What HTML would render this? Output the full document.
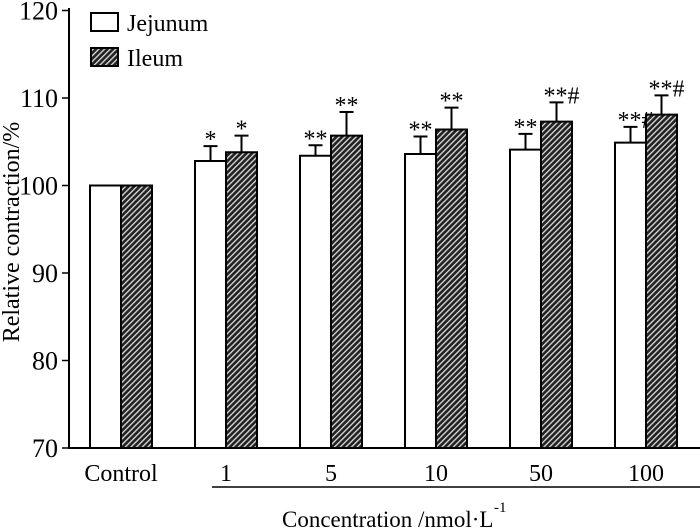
<!DOCTYPE html>
<html><head><meta charset="utf-8"><style>
body{margin:0;background:#fff}
svg{display:block;font-family:"Liberation Serif",serif}
</style></head><body>
<svg id="c" width="700" height="530">
<defs><pattern id="hatch" patternUnits="userSpaceOnUse" width="4" height="4" patternTransform="rotate(45)">
<rect width="4" height="4" fill="#222"/><rect x="0" width="1.3" height="4" fill="#ddd"/></pattern></defs>
</svg>
<script>
const categories=["Control","1","5","10","50","100"];
const jejunum=[100,102.8,103.4,103.6,104.1,104.9];
const jejunumErr=[0,1.7,1.2,2.0,1.8,1.8];
const ileum=[100,103.8,105.7,106.4,107.3,108.1];
const ileumErr=[0,1.9,2.7,2.5,2.2,2.2];
const jejLabels=["","*","**","**","**","**#"];
const ileLabels=["","*","**","**","**#","**#"];
const yTicks=[70,80,90,100,110,120];
const svg=document.getElementById('c');const NS="http://www.w3.org/2000/svg";
function y(v){return 448-(v-70)*8.75;}
function gx(i){return 90+i*105;}
function el(t,a,txt){const e=document.createElementNS(NS,t);for(const k in a)e.setAttribute(k,a[k]);if(txt!==undefined)e.textContent=txt;svg.appendChild(e);return e;}
let e;
e=el('line',{x1:69,y1:8,x2:69,y2:448,stroke:'#000','stroke-width':2});


e=el('line',{x1:68,y1:448,x2:700,y2:448,stroke:'#000','stroke-width':2});


yTicks.forEach(t=>{
 e=el('line',{x1:62,y1:y(t),x2:69,y2:y(t),stroke:'#000','stroke-width':1.5});
 
 
 e=el('text',{x:58,y:y(t)+9,'text-anchor':'end','font-size':26},t);
 
 
});
function bar(x,v,err,fill,lab,name){
 const w=31;
 if(err>0){
  e=el('line',{x1:x+w/2,y1:y(v),x2:x+w/2,y2:y(v+err),stroke:'#000','stroke-width':2});
  
  
  e=el('line',{x1:x+w/2-7,y1:y(v+err),x2:x+w/2+7,y2:y(v+err),stroke:'#000','stroke-width':2});
  
  
 }
 e=el('rect',{x:x,y:y(v),width:w,height:448-y(v),fill:fill,stroke:'#000','stroke-width':2});
 
 
 if(lab){
  e=el('text',{x:x+w/2+(lab.includes('#')?5:0),y:y(v+err)+1,'text-anchor':'middle','font-size':24},lab);
  
  
 }
}
categories.forEach((c,i)=>{
 const x=gx(i);
 bar(x,jejunum[i],jejunumErr[i],'#fff',jejLabels[i],'bar-jejunum-'+c);
 bar(x+31,ileum[i],ileumErr[i],'url(#hatch)',ileLabels[i],'bar-ileum-'+c);
 e=el('text',{x:x+31,y:481,'text-anchor':'middle','font-size':24},c);
 
 
});
e=el('line',{x1:212,y1:487,x2:700,y2:487,stroke:'#000','stroke-width':1.5});


e=el('text',{x:282,y:527,'font-size':23},'Concentration /nmol·L');


e=el('text',{x:494,y:512,'font-size':15},'-1');


e=el('text',{x:0,y:0,'font-size':24,'text-anchor':'middle',transform:'translate(19,232) rotate(-90)'},'Relative contraction/%');


e=el('rect',{x:91,y:13,width:27,height:18,fill:'#fff',stroke:'#000','stroke-width':2});


e=el('text',{x:127,y:31,'font-size':24},'Jejunum');


e=el('rect',{x:91,y:48,width:27,height:18,fill:'url(#hatch)',stroke:'#000','stroke-width':2});


e=el('text',{x:127,y:66,'font-size':24},'Ileum');


</script>
</body></html>
